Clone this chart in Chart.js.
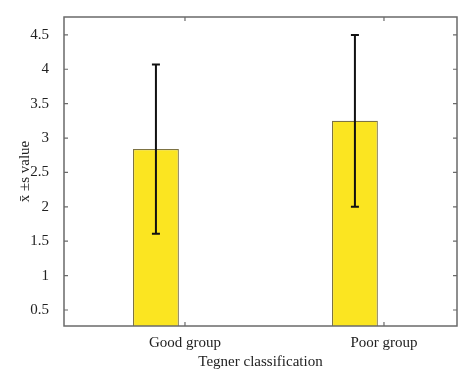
<!DOCTYPE html>
<html>
<head>
<meta charset="utf-8">
<script src="https://cdn.jsdelivr.net/npm/chart.js@4/dist/chart.umd.min.js"></script>
<style>
  html, body { margin: 0; padding: 0; background: #fff; }
  #wrap { width: 474px; height: 387px; }
</style>
</head>
<body>
<div id="wrap"><canvas id="bar-chart"></canvas></div>
<script>
  // Data
  var groups = ['Good group', 'Poor group'];
  var groupPos = [1, 2];
  var means = [2.84, 3.25];
  var sds = [1.23, 1.25];
  var yTicks = [0.5, 1, 1.5, 2, 2.5, 3, 3.5, 4, 4.5];

  var serif = '"Liberation Serif", "DejaVu Serif", serif';
  var axisColor = '#6a6a6a';

  //Box around the plot with inward ticks (matlab style)
  var boxPlugin = {
    id: 'box',
    afterDatasetsDraw: function (chart) {
      var ctx = chart.ctx, a = chart.chartArea;
      var xs = chart.scales.x, ys = chart.scales.y;
      var tl = 4;
      ctx.save();
      ctx.strokeStyle = axisColor;
      ctx.lineWidth = 1.5;
      ctx.strokeRect(a.left, a.top, a.right - a.left, a.bottom - a.top);
      ctx.lineWidth = 1.2;
      ctx.beginPath();
      ys.ticks.forEach(function (t) {
        var y = ys.getPixelForValue(t.value);
        ctx.moveTo(a.left, y); ctx.lineTo(a.left + tl, y);
        ctx.moveTo(a.right, y); ctx.lineTo(a.right - tl, y);
      });
      xs.ticks.forEach(function (t) {
        var x = xs.getPixelForValue(t.value);
        ctx.moveTo(x, a.bottom); ctx.lineTo(x, a.bottom - tl);
        ctx.moveTo(x, a.top); ctx.lineTo(x, a.top + tl);
      });
      ctx.stroke();
      ctx.restore();
    }
  };

  //Error bars: mean +/- sd
  var errorBars = {
    id: 'errorBars',
    afterDatasetsDraw: function (chart) {
      var ctx = chart.ctx, ys = chart.scales.y;
      var meta = chart.getDatasetMeta(0);
      ctx.save();
      ctx.strokeStyle = '#111';
      ctx.lineWidth = 2;
      meta.data.forEach(function (bar, i) {
        var x = bar.x;
        var top = ys.getPixelForValue(means[i] + sds[i]);
        var bot = ys.getPixelForValue(means[i] - sds[i]);
        ctx.beginPath();
        ctx.moveTo(x, top); ctx.lineTo(x, bot);
        ctx.moveTo(x - 4, top); ctx.lineTo(x + 4, top);
        ctx.moveTo(x - 4, bot); ctx.lineTo(x + 4, bot);
        ctx.stroke();
      });
      ctx.restore();
    }
  };

  var ctx = document.getElementById('bar-chart');

  var chart = new Chart(ctx, {
    type: 'bar',
    data: {
      datasets: [{
        label: 'mean',
        data: groupPos.map(function (p, i) { return { x: p, y: means[i] }; }),
        backgroundColor: '#fbe521',
        borderColor: '#7d7344',
        borderWidth: 1.2,
        categoryPercentage: 0.584,
        barPercentage: 0.79
      }, {
        label: 'empty',
        data: groupPos.map(function (p) { return { x: p, y: null }; }),
        backgroundColor: '#fbe521',
        categoryPercentage: 0.584,
        barPercentage: 0.79
      }]
    },
    options: {
      responsive: true,
      maintainAspectRatio: false,
      animation: false,
      layout: { padding: { top: 17, right: 17, left: 0, bottom: 0 } },
      plugins: {
        legend: { display: false },
        tooltip: { enabled: false }
      },
      scales: {
        x: {
          type: 'linear',
          offset: false,
          min: 0.392,
          max: 2.367,
          grid: { display: false, offset: false },
          border: { display: false },
          afterBuildTicks: function (scale) {
            scale.ticks = groupPos.map(function (v) { return { value: v }; });
          },
          afterFit: function (scale) { scale.height = 61; },
          ticks: {
            color: '#222',
            padding: 0,
            font: { family: serif, size: 15 },
            callback: function (v) { return groups[groupPos.indexOf(v)]; }
          },
          title: {
            display: true,
            text: 'Tegner classification',
            color: '#222',
            font: { family: serif, size: 15 },
            padding: { top: 0, bottom: 16 }
          }
        },
        y: {
          min: 0.267,
          max: 4.76,
          grid: { display: false },
          border: { display: false },
          afterBuildTicks: function (scale) {
            scale.ticks = yTicks.map(function (v) { return { value: v }; });
          },
          afterFit: function (scale) { scale.width = 64; },
          ticks: {
            color: '#222',
            padding: 7,
            font: { family: serif, size: 15 },
            callback: function (v) { return String(v); }
          },
          title: {
            display: true,
            text: 'x\u0304 \u00b1s value',
            color: '#222',
            font: { family: serif, size: 15 },
            padding: { top: 16, bottom: 0 }
          }
        }
      }
    },
    plugins: [boxPlugin, errorBars]
  });
</script>
</body>
</html>
